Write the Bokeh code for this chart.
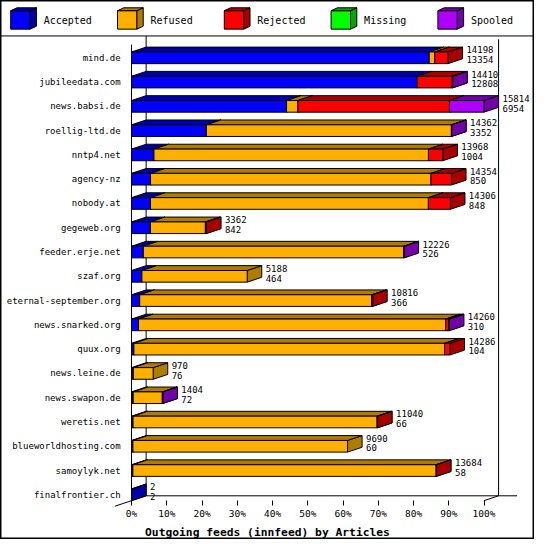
import numpy as np
from bokeh.plotting import figure
from bokeh.models import (Range1d, LinearAxis, FixedTicker, ColumnDataSource, Span)
from bokeh.core.properties import value
from bokeh.embed import file_html
from bokeh.resources import INLINE

# ---------------- data ----------------
feeds = ["mind.de", "jubileedata.com", "news.babsi.de", "roellig-ltd.de", "nntp4.net",
         "agency-nz", "nobody.at", "gegeweb.org", "feeder.erje.net", "szaf.org",
         "eternal-september.org", "news.snarked.org", "quux.org", "news.leine.de",
         "news.swapon.de", "weretis.net", "blueworldhosting.com", "samoylyk.net",
         "finalfrontier.ch"]
offered = [14198, 14410, 15814, 14362, 13968, 14354, 14306, 3362, 12226, 5188,
           10816, 14260, 14286, 970, 1404, 11040, 9690, 13684, 2]
accepted = [13354, 12808, 6954, 3352, 1004, 850, 848, 842, 526, 464,
            366, 310, 104, 76, 72, 66, 60, 58, 2]
refused = [250, 0, 510, 10998, 12317, 12583, 12470, 2470, 11690, 4724,
           10409, 13780, 13938, 894, 1307, 10950, 9630, 13606, 0]
rejected = [594, 1580, 6800, 0, 647, 921, 988, 50, 0, 0,
            41, 130, 244, 0, 0, 24, 0, 20, 0]
missing = [0, 0, 0, 0, 0, 0, 0, 0, 0, 0,
           0, 0, 0, 0, 0, 0, 0, 0, 0]
spooled = [0, 22, 1550, 12, 0, 0, 0, 0, 10, 0,
           0, 40, 0, 0, 25, 0, 0, 0, 0]

series_names = ["Accepted", "Refused", "Rejected", "Missing", "Spooled"]
series_values = [accepted, refused, rejected, missing, spooled]
front_colors = ["#0000FF", "#FFAF00", "#FF0000", "#00FF00", "#AF00FF"]
dark_colors = ["#0000A8", "#B07C00", "#A80000", "#00A800", "#7400A8"]

tick_values = [0, 10, 20, 30, 40, 50, 60, 70, 80, 90, 100]
tick_labels = ["0%", "10%", "20%", "30%", "40%", "50%", "60%", "70%", "80%", "90%", "100%"]
x_title = "Outgoing feeds (innfeed) by Articles"

# ---------------- geometry ----------------
W, H = 534, 539            # canvas
RW, RH = 550, 555          # reference picture size
SX, SY = W / RW, H / RH
PX = 3.63                  # reference px per percent
RS = 25.0                  # reference px per row
X0 = 135.0                 # reference x of 0 %
Y0 = 509.0                 # reference y of last row centre
XS, XE = -X0 / PX, (RW - X0) / PX
YT, YB = Y0 / RS, (Y0 - RH) / RS
DX, DY = 15 / PX, 5 / RS   # 3-D depth
HALF = 6 / RS              # half bar height
Y_AX = -HALF               # front floor level


def rx(v):  # reference px -> data x
    return (v - X0) / PX


def ry(v):  # reference px -> data y
    return (Y0 - v) / RS


FONT = "DejaVu Sans Mono"

p = figure(width=W, height=H, x_range=Range1d(XS, XE), y_range=Range1d(YB, YT),
           x_axis_type=None, y_axis_type=None, toolbar_location=None,
           output_backend="svg", min_border=0, min_border_left=0, min_border_right=0,
           min_border_top=0, min_border_bottom=0)
p.background_fill_color = "white"
p.border_fill_color = "white"
p.outline_line_color = "black"
p.outline_line_width = 2

# legend separator
p.add_layout(Span(location=ry(36.5), dimension="width", line_color="black", line_width=1))

# back wall / floor lines
p.segment(x0=[DX, 100 + DX, DX, -1.15 * DX, 100],
          y0=[ry(36.5), ry(40), Y_AX + DY, Y_AX - 1.15 * DY, Y_AX],
          x1=[DX, 100 + DX, rx(532), DX, 100 + DX],
          y1=[Y_AX + DY, Y_AX + DY, Y_AX + DY, Y_AX + DY, Y_AX + DY],
          line_color="black", line_width=1)

# ---------------- bars ----------------
n = len(feeds)
ypos = np.array([n - 1 - i for i in range(n)], dtype=float)
maxv = float(max(offered))
cum = np.zeros(n)
for k, vals in enumerate(series_values):
    v = np.array(vals, dtype=float)
    left = cum.copy()
    right = cum + v / maxv * 100.0
    m = v > 0
    L, R, Y = left[m], right[m], ypos[m]
    bot, top = Y - HALF, Y + HALF
    side_xs = [[r, r, r + DX, r + DX] for r in R]
    side_ys = [[b, t, t + DY, b + DY] for b, t in zip(bot, top)]
    top_xs = [[l, r, r + DX, l + DX] for l, r in zip(L, R)]
    top_ys = [[t, t, t + DY, t + DY] for t in top]
    p.patches(xs=side_xs, ys=side_ys, fill_color=dark_colors[k], line_color="black", line_width=1)
    p.patches(xs=top_xs, ys=top_ys, fill_color=dark_colors[k], line_color="black", line_width=1)
    p.quad(left=L, right=R, bottom=bot, top=top,
           fill_color=front_colors[k], line_color="black", line_width=1)
    cum = right

# value labels (total / accepted)
lab_x = cum + DX + 4 / PX
src = ColumnDataSource(dict(x=np.concatenate([lab_x, lab_x]),
                            y=np.concatenate([ypos + 0.33, ypos - 0.07]),
                            t=[str(v) for v in offered] + [str(v) for v in accepted]))
p.text(x="x", y="y", text="t", source=src, text_font=value(FONT), text_font_size="9px",
       text_baseline="middle", text_align="left", text_color="black")

# ---------------- axes ----------------
xaxis = LinearAxis(fixed_location=Y_AX, ticker=FixedTicker(ticks=tick_values),
                   major_label_overrides={t: l for t, l in zip(tick_values, tick_labels)},
                   bounds=(2 * rx(275) - 100, 100))
xaxis.axis_line_color = None
xaxis.major_tick_out = 5
xaxis.major_tick_in = 0
xaxis.major_tick_line_color = "black"
xaxis.minor_tick_line_color = None
xaxis.major_label_standoff = 2
xaxis.major_label_text_font = FONT
xaxis.major_label_text_font_size = "9.5px"
xaxis.major_label_text_color = "black"
xaxis.axis_label = x_title
xaxis.axis_label_text_font = FONT
xaxis.axis_label_text_font_size = "11.3px"
xaxis.axis_label_text_font_style = "bold"
xaxis.axis_label_text_color = "black"
xaxis.axis_label_standoff = 4
p.add_layout(xaxis, "below")

yaxis = LinearAxis(fixed_location=0, ticker=FixedTicker(ticks=list(ypos)),
                   major_label_overrides={float(y): f for y, f in zip(ypos, feeds)},
                   bounds=(Y_AX, ry(45)))
yaxis.axis_line_color = "black"
yaxis.major_tick_line_color = None
yaxis.minor_tick_line_color = None
yaxis.major_label_standoff = 5
yaxis.major_label_text_font = FONT
yaxis.major_label_text_font_size = "9px"
yaxis.major_label_text_color = "black"
p.add_layout(yaxis, "left")

# ---------------- legend (3-D cubes, drawn in reference pixel layout) ----------------
LEG_X0, LEG_STEP, LEG_Y = 10.5, 110.0, 10.5      # reference px
CW, CH, CDX, CDY, TXT_DX = 20.0, 19.0, 6.5, 3.0, 34.0
gx = np.array([LEG_X0 + k * LEG_STEP for k in range(len(series_names))])
p.quad(left=rx(gx), right=rx(gx + CW), top=ry(LEG_Y), bottom=ry(LEG_Y + CH),
       fill_color=front_colors, line_color="black", line_width=1)
p.patches(xs=[[rx(g + CW), rx(g + CW), rx(g + CW + CDX), rx(g + CW + CDX)] for g in gx],
          ys=[[ry(LEG_Y + CH), ry(LEG_Y), ry(LEG_Y - CDY), ry(LEG_Y + CH - CDY)] for g in gx],
          fill_color=dark_colors, line_color="black", line_width=1)
p.patches(xs=[[rx(g), rx(g + CW), rx(g + CW + CDX), rx(g + CDX)] for g in gx],
          ys=[[ry(LEG_Y), ry(LEG_Y), ry(LEG_Y - CDY), ry(LEG_Y - CDY)] for g in gx],
          fill_color=dark_colors, line_color="black", line_width=1)
p.text(x=rx(gx + TXT_DX), y=[ry(LEG_Y + CH / 2 + 0.5)] * len(gx), text=series_names,
       text_font=value(FONT), text_font_size="10px", text_baseline="middle",
       text_align="left", text_color="black")

open("out.html", "w").write(file_html(p, INLINE))
